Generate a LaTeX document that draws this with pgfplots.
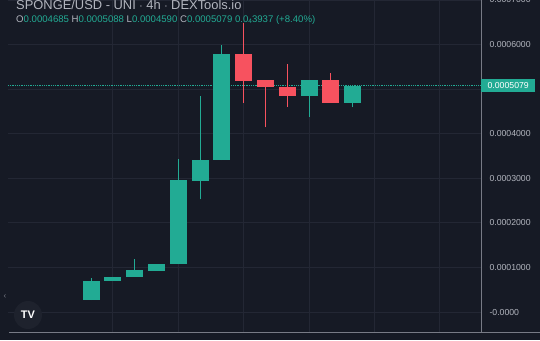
\documentclass[border=0pt]{standalone}
\usepackage{pgfplots}
\pgfplotsset{compat=1.18}
\usepackage{fontspec}
\setmainfont{Liberation Sans}
\definecolor{bg}{HTML}{161A25}
\definecolor{gridc}{HTML}{232734}
\definecolor{txt}{HTML}{B2B5BE}
\definecolor{axc}{HTML}{787B86}
\definecolor{grn}{HTML}{22AB94}
\definecolor{red}{HTML}{F7525F}
\definecolor{logobg}{HTML}{1E222D}
\begin{document}
\begin{tikzpicture}[x=1pt,y=1pt]
\useasboundingbox (0,0) rectangle (540,340);
\clip (0,0) rectangle (540,340);
\fill[bg] (0,0) rectangle (540,340);
\begin{axis}[at={(8pt,340pt)}, anchor=north west, scale only axis,
  width=473pt, height=333pt,
  xmin=-3.81, xmax=17.89, ymin=-0.47, ymax=7.0,
  axis line style={draw=none},
  xtick={1,4,7,10,13,16}, xticklabels={},
  ytick={0,1,2,3,4,5,6,7},
  yticklabels={-0.0000,0.0001000,0.0002000,0.0003000,0.0004000,,0.0006000,0.0007000},
  yticklabel pos=right,
  major tick length=0pt,
  grid=major, grid style={draw=gridc, line width=0.8pt},
  yticklabel style={anchor=west, xshift=5pt, font=\fontsize{8.7}{10}\selectfont, text=txt},
  gw/.style={draw=grn, line width=1pt},
  rw/.style={draw=red, line width=1pt},
  gb/.style={fill=grn, draw=none},
  rb/.style={fill=red, draw=none},
]
% price line
\addplot[draw=grn, densely dotted, line width=0.8pt] coordinates {(-3.81,5.079)(17.89,5.079)};
% candles: wick (low,high), body (open,close)
\addplot[gw] coordinates {(0,0.27)(0,0.764)};
\addplot[gb] coordinates {(-0.39,0.27)(0.39,0.27)(0.39,0.697)(-0.39,0.697)};
\addplot[gw] coordinates {(1,0.697)(1,0.793)};
\addplot[gb] coordinates {(0.61,0.697)(1.39,0.697)(1.39,0.79)(0.61,0.79)};
\addplot[gw] coordinates {(2,0.787)(2,1.19)};
\addplot[gb] coordinates {(1.61,0.787)(2.39,0.787)(2.39,0.937)(1.61,0.937)};
\addplot[gw] coordinates {(3,0.93)(3,1.085)};
\addplot[gb] coordinates {(2.61,0.93)(3.39,0.93)(3.39,1.085)(2.61,1.085)};
\addplot[gw] coordinates {(4,1.08)(4,3.43)};
\addplot[gb] coordinates {(3.61,1.08)(4.39,1.08)(4.39,2.96)(3.61,2.96)};
\addplot[gw] coordinates {(5,2.53)(5,4.84)};
\addplot[gb] coordinates {(4.61,2.95)(5.39,2.95)(5.39,3.41)(4.61,3.41)};
\addplot[gw] coordinates {(6,3.41)(6,6.0)};
\addplot[gb] coordinates {(5.61,3.41)(6.39,3.41)(6.39,5.79)(5.61,5.79)};
\addplot[rw] coordinates {(7,4.69)(7,6.49)};
\addplot[rb] coordinates {(6.61,5.79)(7.39,5.79)(7.39,5.19)(6.61,5.19)};
\addplot[rw] coordinates {(8,4.14)(8,5.2)};
\addplot[rb] coordinates {(7.61,5.2)(8.39,5.2)(8.39,5.05)(7.61,5.05)};
\addplot[rw] coordinates {(9,4.6)(9,5.57)};
\addplot[rb] coordinates {(8.61,5.05)(9.39,5.05)(9.39,4.84)(8.61,4.84)};
\addplot[gw] coordinates {(10,4.38)(10,5.21)};
\addplot[gb] coordinates {(9.61,4.84)(10.39,4.84)(10.39,5.21)(9.61,5.21)};
\addplot[rw] coordinates {(11,4.69)(11,5.36)};
\addplot[rb] coordinates {(10.61,5.21)(11.39,5.21)(11.39,4.69)(10.61,4.69)};
\addplot[gw] coordinates {(12,4.59)(12,5.088)};
\addplot[gb] coordinates {(11.61,4.685)(12.39,4.685)(12.39,5.079)(11.61,5.079)};
\end{axis}
% axis lines
\draw[axc, line width=0.8pt] (481,340) -- (481,7);
\draw[axc, line width=0.8pt] (9,7.5) -- (540,7.5);
% price label
\node[fill=grn, text=white, anchor=west, inner sep=0pt, minimum width=54pt, minimum height=13pt,
  font=\fontsize{8.7}{10}\selectfont] at (481,254.5) {0.0005079};
% header
\node[anchor=base west, inner sep=0pt, text=txt, font=\fontsize{12.9}{14}\selectfont]
  at (16,330.5) {SPONGE/USD - UNI {\(\cdot\)} 4h {\(\cdot\)} DEXTools.io};
\node[anchor=base west, inner sep=0pt, font=\fontsize{9.6}{11}\selectfont]
  at (16,317.3) {\color{txt}O\color{grn}0.0004685 \color{txt}H\color{grn}0.0005088 \color{txt}L\color{grn}0.0004590 \color{txt}C\color{grn}0.0005079 0.0\raisebox{-0.25ex}{\fontsize{6.5}{7}\selectfont 4}3937 (+8.40\%)};
% left scroll button
\node[text=axc, font=\fontsize{8}{9}\selectfont, inner sep=0pt] at (5,43) {‹};
% TV logo
\fill[logobg] (28,25) circle (14);
\node[text=white, font=\bfseries\fontsize{11}{12}\selectfont, inner sep=0pt] at (28,25) {TV};
\end{tikzpicture}
\end{document}
